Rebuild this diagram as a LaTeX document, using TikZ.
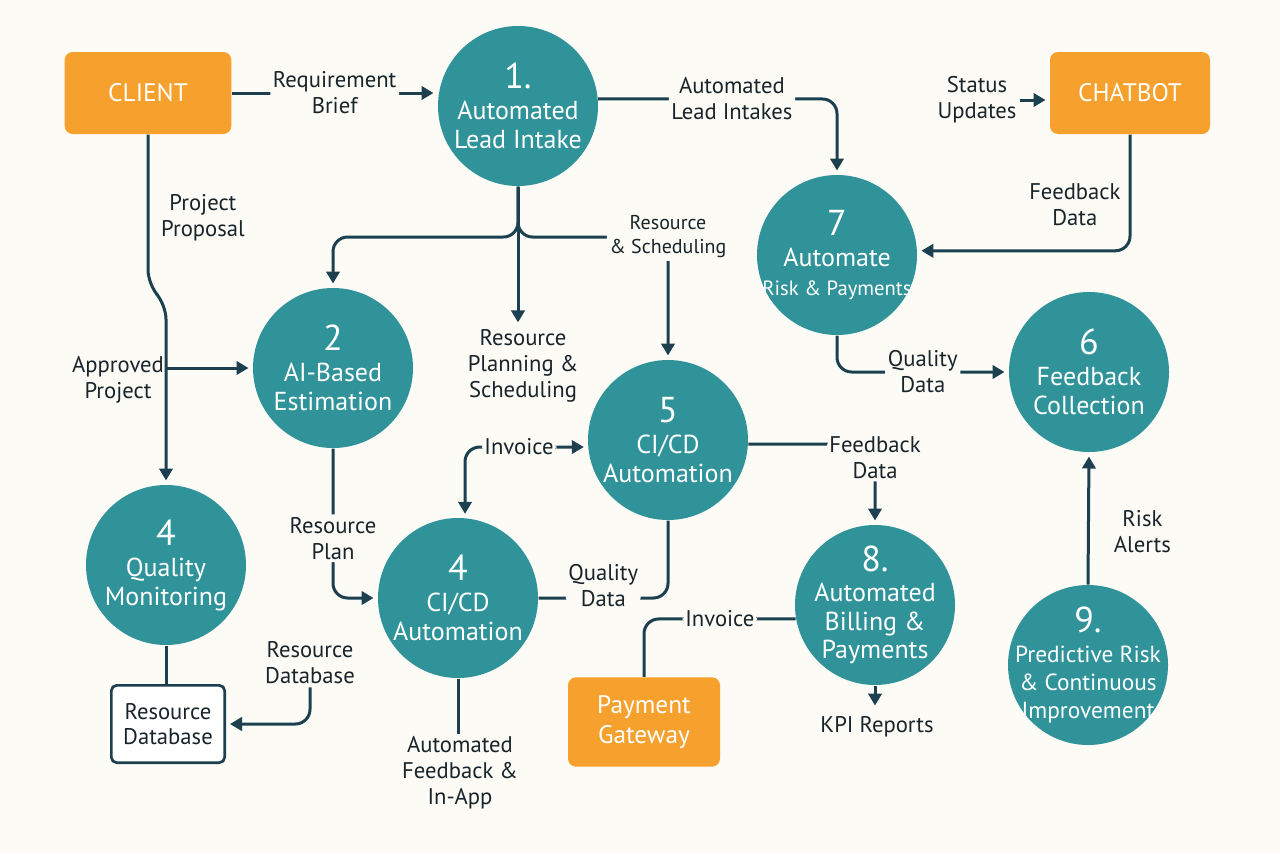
\documentclass[tikz,border=0pt]{standalone}
\usepackage{fontspec}
\setmainfont{PT Sans}
\usetikzlibrary{arrows.meta}

\definecolor{bgc}{RGB}{252,251,246}
\definecolor{tealc}{RGB}{47,147,153}
\definecolor{orangec}{RGB}{246,160,45}
\definecolor{linec}{RGB}{28,64,80}
\definecolor{textc}{RGB}{24,36,42}

\tikzset{every picture/.style={line width=0.75pt}}
\tikzset{
  proc/.style={circle, fill=tealc, minimum size=120pt, inner sep=0pt},
  ptext/.style={text=white, align=center, inner sep=0pt, font=\fontsize{19.5}{21.5}\selectfont},
  ext/.style={rectangle, rounded corners=6pt, fill=orangec, text=white, align=center,
    minimum width=125pt, minimum height=61.5pt, font=\fontsize{19}{22}\selectfont},
  store/.style={rectangle, rounded corners=4pt, draw=linec, line width=2pt, fill=white, text=textc,
    align=center, minimum width=85pt, minimum height=58pt, font=\fontsize{17}{19}\selectfont},
  lbl/.style={text=textc, align=center, fill=bgc, inner sep=2pt, font=\fontsize{17}{19.5}\selectfont},
  flow/.style={draw=linec, line width=2.25pt, rounded corners=11pt, -{Triangle[length=9pt,width=10pt]}, shorten >=3pt},
  flowtwo/.style={flow, {Triangle[length=9pt,width=10pt]}-{Triangle[length=9pt,width=10pt]}, shorten <=3pt},
  link/.style={draw=linec, line width=2.25pt, rounded corners=11pt}
}
\newcommand{\pnum}[1]{{\fontsize{27}{28}\selectfont #1}}

\begin{document}
\begin{tikzpicture}[x=0.75pt,y=0.75pt,yscale=-1,xscale=1]
\useasboundingbox[fill=bgc] (0,0) rectangle (1280,853);

%External entities
\node[ext] (client) at (148,93) {CLIENT};
\node[ext, minimum width=120pt] (chat) at (1130,93) {CHATBOT};
\node[ext, minimum width=114pt, minimum height=67pt] (gate) at (644,722) {Payment\\Gateway};
\node[store] (db) at (168,724) {Resource\\Database};

%Processes
\node[proc, label={[ptext]center:{\pnum{1.}\\[2pt]Automated\\Lead Intake}}] (p1) at (518,106) {};
\node[proc, label={[ptext]center:{\pnum{2}\\[2pt]AI-Based\\Estimation}}] (p2) at (333,368) {};
\node[proc, label={[ptext]center:{\pnum{4}\\[2pt]Quality\\Monitoring}}] (q4) at (166,565) {};
\node[proc, label={[ptext]center:{\pnum{4}\\[2pt]CI/CD\\Automation}}] (c4) at (458,598) {};
\node[proc, label={[ptext]center:{\pnum{5}\\[2pt]CI/CD\\Automation}}] (p5) at (668,440) {};
\node[proc, label={[ptext]center:{\pnum{6}\\[2pt]Feedback\\Collection}}] (p6) at (1089,372) {};
\node[proc, label={[ptext]center:{\pnum{7}\\[2pt]Automate\\{\fontsize{15.5}{19}\selectfont Risk \& Payments}}}] (p7) at (837,255) {};
\node[proc, label={[ptext]center:{\pnum{8.}\\[1pt]Automated\\Billing \&\\Payments}}] (p8) at (875,605) {};
\node[proc, label={[ptext, font=\fontsize{17.5}{21}\selectfont]center:{\pnum{9.}\\[1pt]Predictive Risk\\\& Continuous\\Improvement}}] (p9) at (1088,665) {};

% Text Node
\node[lbl, anchor=west] (lprop) at (158,218) {Project\\Proposal};
% Text Node
\node[lbl, fill=none] (lapp) at (118,380) {Approved\\Project};
% Text Node
\node[lbl] (rpl) at (523,366) {Resource\\Planning \&\\Scheduling};
% Text Node
\node[lbl] (status) at (977,100) {Status\\Updates};
% Text Node
\node[lbl] (kpi) at (877,727) {KPI Reports};
% Text Node
\node[lbl] (ldb) at (310,663) {Resource\\Database};
% Text Node
\node[lbl] (linapp) at (460,773) {Automated\\Feedback \&\\In-App};

\coordinate (split) at (518,237);
\coordinate (japp) at (166,368);

%Straight Lines
\draw[flow] (client.east) -- node[lbl] {Requirement\\Brief} (client.east -| p1.west);
\draw[flow] (p1.5) -| node[lbl, pos=0.28] {Automated\\Lead Intakes} (p7.north);
\draw[flow] (client.south) -- ++(0,150) -- ++(18,20) -- (q4.north);
\draw[flow] (japp) -- (p2.west);
\draw[flow] (p1.south) |- (split -| p2.north) -- (p2.north);
\draw[flow] (p1.south) -- (p1.south |- rpl.north);
\draw[flow] (p1.south) |- (split -| p5.north) node[lbl, font=\fontsize{15}{18}\selectfont] {Resource\\\& Scheduling} -- (p5.north);
\draw[flow] (p2.south) |- node[lbl, pos=0.3] {Resource\\Plan} (c4.west);
\draw[flowtwo] (c4.85) |- node[lbl, pos=0.72] {Invoice} (p5.185);
\draw[link] (c4.east) -| node[lbl, pos=0.25, yshift=9pt] {Quality\\Data} (p5.south);
\draw[flow] (p5.357) -| node[lbl, yshift=-10pt] {Feedback\\Data} (p8.north);
\draw[link] (p8.190) -| node[lbl, pos=0.25] {Invoice} (gate.north);
\draw[flow, shorten >=6pt] (p8.south) -- (p8.south |- kpi.north);
\draw[flow] (p9.north) -- node[lbl, pos=0.4, right=16pt] {Risk\\Alerts} (p6.south);
\draw[flow] (p7.south) |- node[lbl, pos=0.75] {Quality\\Data} (p6.west);
\draw[flow] (status.east) -- (status.east -| chat.west);
\draw[flow] (chat.south) |- node[lbl, pos=0.3, left=4pt] {Feedback\\Data} (p7.3);
\draw[link] (q4.south) -- (q4.south |- db.north);
\draw[flow] (ldb.south) |- (db.east);
\draw[link] (c4.south) -- (c4.south |- linapp.north);

\end{tikzpicture}
\end{document}
